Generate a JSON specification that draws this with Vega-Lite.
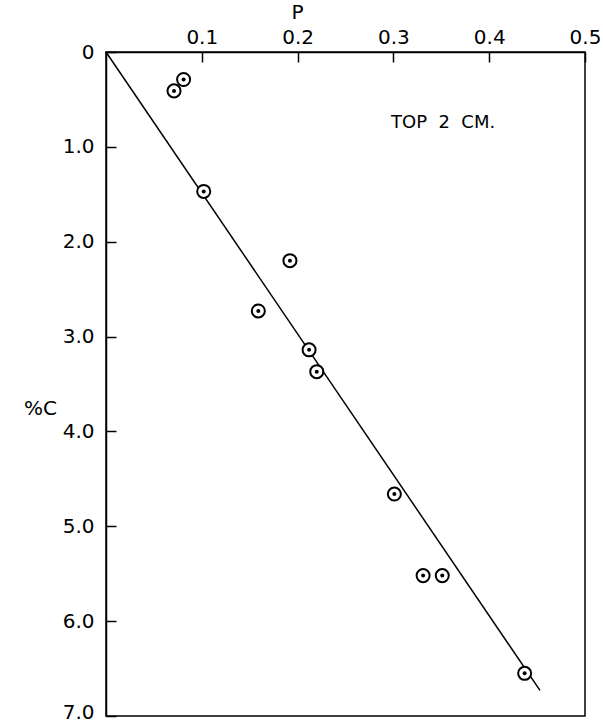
{
  "$schema": "https://vega.github.io/schema/vega-lite/v6.json",
  "width": 479,
  "height": 664,
  "autosize": {"type": "none"},
  "padding": {"left": 106, "top": 52, "right": 18, "bottom": 9},
  "background": "white",
  "config": {
    "view": {"stroke": "black", "strokeWidth": 1.5},
    "axis": {
      "labelFont": "DejaVu Sans",
      "titleFont": "DejaVu Sans",
      "labelColor": "black",
      "titleColor": "black",
      "domainColor": "black",
      "tickColor": "black",
      "domainWidth": 1.5,
      "tickWidth": 1.5,
      "grid": false,
      "labelFontSize": 20,
      "titleFontSize": 20,
      "titleFontWeight": "normal"
    }
  },
  "datasets": {
    "pts": [
      {"P": 0.071, "C": 0.41},
      {"P": 0.081, "C": 0.29},
      {"P": 0.102, "C": 1.47},
      {"P": 0.192, "C": 2.20},
      {"P": 0.159, "C": 2.73},
      {"P": 0.212, "C": 3.14},
      {"P": 0.220, "C": 3.37},
      {"P": 0.301, "C": 4.66},
      {"P": 0.331, "C": 5.52},
      {"P": 0.351, "C": 5.52},
      {"P": 0.437, "C": 6.55}
    ],
    "fit": [
      {"P": 0.0, "C": 0.0},
      {"P": 0.453, "C": 6.73}
    ],
    "lbl": [
      {"P": 0.2975, "C": 0.80, "t": "TOP\u00a0\u00a02\u00a0\u00a0CM."}
    ]
  },
  "encoding": {
    "x": {
      "field": "P", "type": "quantitative",
      "scale": {"domain": [0, 0.5], "nice": false, "zero": false},
      "axis": {
        "orient": "top", "title": "P",
        "values": [0.1, 0.2, 0.3, 0.4, 0.5],
        "format": ".1f",
        "tickSize": -10,
        "labelPadding": 15,
        "labelFlush": false,
        "titleX": 191, "titleY": -30, "titleBaseline": "bottom"
      }
    },
    "y": {
      "field": "C", "type": "quantitative",
      "scale": {"domain": [0, 7], "reverse": true, "nice": false, "zero": false},
      "axis": {
        "orient": "left", "title": "%C",
        "values": [0, 1, 2, 3, 4, 5, 6, 7],
        "labelExpr": "datum.value == 0 ? '0' : format(datum.value, '.1f')",
        "labelOffset": {"expr": "datum.value == 7 ? -4 : 0"},
        "tickSize": -10,
        "labelPadding": 22,
        "labelFlush": false,
        "titleAngle": 0, "titleX": -66, "titleY": 356, "titleAlign": "center", "titleBaseline": "middle"
      }
    }
  },
  "layer": [
    {
      "data": {"name": "fit"},
      "mark": {"type": "line", "color": "black", "strokeWidth": 1.5},
      "encoding": {}
    },
    {
      "data": {"name": "pts"},
      "mark": {"type": "point", "shape": "circle", "filled": true, "fill": "white", "stroke": "black", "strokeWidth": 2, "size": 170, "opacity": 1},
      "encoding": {}
    },
    {
      "data": {"name": "pts"},
      "mark": {"type": "point", "shape": "circle", "filled": true, "color": "black", "size": 16, "opacity": 1},
      "encoding": {}
    },
    {
      "data": {"name": "lbl"},
      "mark": {"type": "text", "align": "left", "baseline": "alphabetic", "font": "DejaVu Sans", "fontSize": 18, "color": "black"},
      "encoding": {"text": {"field": "t"}}
    }
  ]
}
